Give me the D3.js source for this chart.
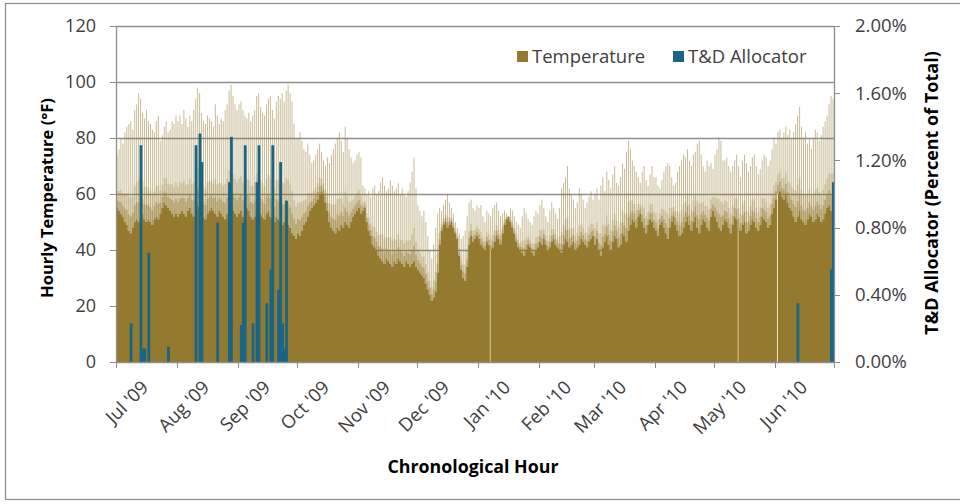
<!DOCTYPE html>
<html><head><meta charset="utf-8">
<script src="https://cdn.jsdelivr.net/npm/d3@7"></script>
<style>
body{margin:0;background:#fff;}
text{font-family:"Open Sans",sans-serif;fill:#404040;}
</style>
</head><body>
<svg id="chart" width="960" height="504"></svg>
<script>
// ---------------- DATA ----------------
const startDate = "2009-07-01";
const endDate = "2010-07-01";
const monthLabels = ["Jul '09","Aug '09","Sep '09","Oct '09","Nov '09","Dec '09","Jan '10","Feb '10","Mar '10","Apr '10","May '10","Jun '10"];
const tempTicks = [0,20,40,60,80,100,120];
const allocTicks = [0,0.004,0.008,0.012,0.016,0.020];

// daily level under which the hourly temperature bars are solid (°F), Jul 1 2009 .. Jun 30 2010
const tempBase = [
// Jul
55,54,53,52,50,49,47,46,48,50,51,50,52,53,51,50,51,50,49,51,52,51,53,55,57,56,55,54,53,52,53,
// Aug
52,53,54,53,52,54,55,53,52,54,56,55,53,52,51,53,54,55,54,53,52,54,53,52,51,53,55,56,54,53,52,
// Sep
53,54,52,53,55,54,52,51,52,54,55,53,52,51,53,54,52,51,50,52,51,50,49,50,51,49,48,46,45,44,
// Oct
46,45,47,49,50,52,54,55,56,57,58,60,61,60,57,54,50,48,47,46,48,47,49,48,50,49,48,50,52,53,54,
// Nov
55,53,54,55,50,47,45,42,41,40,38,37,36,35,37,36,35,34,36,35,37,36,35,34,36,35,34,35,36,34,
// Dec
33,32,31,30,28,26,24,22,23,25,32,42,47,49,50,48,49,50,48,46,44,38,33,30,29,34,42,45,43,44,45,
// Jan
44,42,41,40,43,42,40,41,43,45,44,42,46,49,51,52,50,48,46,43,41,40,39,38,40,42,41,39,38,40,41,
// Feb
43,42,44,42,40,41,43,44,42,41,40,39,42,44,43,41,42,43,40,41,42,44,43,42,41,43,44,45,
// Mar
42,44,40,38,41,43,45,42,40,43,45,44,41,42,46,45,43,47,49,51,50,48,52,53,50,48,46,49,51,50,48,
// Apr
47,45,49,50,48,46,44,48,50,52,49,47,45,46,48,50,52,49,47,50,52,48,46,49,51,50,48,47,52,54,
// May
52,50,48,47,49,51,50,48,46,49,52,51,48,47,49,50,46,47,49,51,50,48,47,49,52,51,50,48,49,53,55,
// Jun
58,60,61,59,58,60,57,55,54,52,50,52,54,51,50,49,51,53,52,50,51,53,52,50,51,53,55,56,54,55
];
// daily peak hourly temperature (°F)
const tempPeak = [
// Jul
74,76,80,78,82,84,85,86,83,90,92,96,94,89,87,90,86,85,83,82,86,88,79,81,84,86,82,83,86,85,88,
// Aug
86,88,85,90,87,84,88,86,90,94,98,96,89,86,85,88,87,86,84,92,88,85,87,86,90,92,97,99,95,92,90,
// Sep
92,93,90,88,87,89,86,88,90,95,96,91,89,88,92,94,95,90,87,93,95,94,96,93,97,99,96,93,85,80,
// Oct
80,82,79,76,75,78,74,71,72,74,76,78,75,72,70,73,71,74,76,78,80,82,79,75,84,80,76,73,71,72,74,
// Nov
75,73,63,62,60,61,59,62,63,60,61,64,66,63,61,62,65,63,61,62,64,60,62,60,59,61,64,68,73,62,
// Dec
56,54,52,54,50,45,40,37,42,48,53,55,54,56,58,60,57,55,53,50,48,46,44,45,47,52,57,58,55,54,56,
// Jan
55,56,52,50,54,53,52,55,56,57,54,52,53,54,53,52,55,54,52,50,49,48,52,55,53,51,50,49,52,54,53,
// Feb
56,58,55,52,50,54,57,55,53,51,55,62,64,66,70,62,60,58,55,57,62,60,58,55,57,59,61,58,
// Mar
60,62,58,63,66,61,68,65,62,67,70,64,63,66,71,69,75,79,76,72,70,68,66,64,68,70,65,63,67,70,66,
// Apr
66,63,62,65,68,70,71,70,66,63,64,68,70,72,74,73,76,72,70,74,75,78,79,74,70,68,72,70,71,69,
// May
74,76,80,79,72,72,73,70,68,70,72,74,70,66,72,74,71,68,70,73,74,70,67,69,72,74,73,70,72,76,80,
// Jun
78,82,83,80,82,84,81,83,80,82,85,88,91,84,80,82,78,80,76,80,83,82,79,81,84,86,88,92,95,94
];
// hours with missing / low readings (light lines)
const gapDays = ["2010-01-07","2010-05-13","2010-06-02"];

// T&D allocator: hour and share of total
const allocTimes = ["2009-07-08T15:00","2009-07-13T15:00","2009-07-14T15:00","2009-07-15T15:00","2009-07-17T15:00","2009-07-27T15:00",
  "2009-08-10T15:00","2009-08-12T15:00","2009-08-13T15:00","2009-08-21T15:00","2009-08-27T15:00","2009-08-28T15:00",
  "2009-09-02T15:00","2009-09-03T15:00","2009-09-04T15:00","2009-09-08T15:00","2009-09-10T15:00","2009-09-11T15:00",
  "2009-09-15T15:00","2009-09-17T15:00","2009-09-18T15:00","2009-09-21T15:00","2009-09-22T15:00","2009-09-23T15:00",
  "2009-09-24T15:00","2009-09-25T15:00","2010-06-12T15:00","2010-06-29T15:00","2010-06-30T15:00"];
const allocValues = [0.0023,0.0129,0.0008,0.0008,0.0065,0.0009,
  0.0129,0.0136,0.0119,0.0083,0.0107,0.0134,
  0.0022,0.0083,0.0129,0.0023,0.0107,0.0129,
  0.0035,0.0055,0.0129,0.0043,0.0119,0.0023,
  0.0008,0.0096,0.0035,0.0055,0.0107];

// ---------------- CHART ----------------
const svg = d3.select("#chart");
const m = {left:116, right:834, top:26, bottom:362};
const tempColor = "#947A2E", allocColor = "#1A6585", gridColor = "#8E8E8E";

const parseDay = d3.utcParse("%Y-%m-%d");
const parseHour = d3.utcParse("%Y-%m-%dT%H:%M");
const t0 = parseDay(startDate), t1 = parseDay(endDate);
const x = d3.scaleUtc().domain([t0, t1]).range([m.left, m.right]);
const yT = d3.scaleLinear().domain([0,120]).range([m.bottom, m.top]);
const yA = d3.scaleLinear().domain([0,0.02]).range([m.bottom, m.top]);

// outer frame
svg.append("rect").attr("x",5.5).attr("y",3.5).attr("width",980).attr("height",496)
  .attr("fill","#fff").attr("stroke","#8a8a8a").attr("stroke-width",1.2);

// gridlines
svg.append("g").selectAll("line").data(tempTicks.filter(d=>d>0)).join("line")
  .attr("x1",m.left).attr("x2",m.right)
  .attr("y1",d=>Math.round(yT(d))+0.5).attr("y2",d=>Math.round(yT(d))+0.5)
  .attr("stroke",gridColor).attr("stroke-width",1.3);

// temperature
const days = tempBase.map((b,i)=>({d:d3.utcDay.offset(t0,i), base:b, peak:tempPeak[i]}));
const stepDays = days.concat([{d:t1, base:days[days.length-1].base, peak:days[days.length-1].peak}]);
const gT = svg.append("g");
const lvl = (d,f)=>yT(d.base+(d.peak-d.base)*f);
// fading bands above the solid body (hourly bars thin out toward the daily peak)
[[0,0.15,0.5],[0.15,0.32,0.22]].forEach(([a,b,op])=>{
  gT.append("path").datum(stepDays)
    .attr("d", d3.area().curve(d3.curveStepAfter).x(d=>x(d.d)).y0(d=>lvl(d,a)).y1(d=>lvl(d,b)))
    .attr("fill",tempColor).attr("opacity",op);
});
// thin daily peak spikes
gT.selectAll("line.spike").data(days).join("line").attr("class","spike")
  .attr("x1",d=>x(d.d)+1).attr("x2",d=>x(d.d)+1)
  .attr("y1",d=>yT(d.peak)).attr("y2",d=>yT(d.base))
  .attr("stroke",tempColor).attr("stroke-width",1).attr("opacity",0.5);
// solid body
gT.append("path").datum(stepDays)
  .attr("d", d3.area().curve(d3.curveStepAfter).x(d=>x(d.d)).y0(yT(0)).y1(d=>yT(d.base)))
  .attr("fill",tempColor);
gT.selectAll("line.gap").data(gapDays).join("line").attr("class","gap")
  .attr("x1",d=>x(parseDay(d))+0.5).attr("x2",d=>x(parseDay(d))+0.5)
  .attr("y1",(d)=>{const i=d3.utcDay.count(t0,parseDay(d)); return yT(tempBase[i]);})
  .attr("y2",yT(0)).attr("stroke",(d,i)=>i===2?"#F2E9C8":"#D9C890").attr("stroke-width",1);

// allocator
svg.append("g").selectAll("rect").data(allocTimes).join("rect")
  .attr("x",(d)=>x(parseHour(d))-1.3).attr("width",2.8)
  .attr("y",(d,i)=>yA(allocValues[i])).attr("height",(d,i)=>yA(0)-yA(allocValues[i]))
  .attr("fill",allocColor);

// axes lines
const axisC = "#8E8E8E";
svg.append("line").attr("x1",m.left+0.5).attr("x2",m.left+0.5).attr("y1",m.top).attr("y2",m.bottom).attr("stroke",axisC).attr("stroke-width",1.3);
svg.append("line").attr("x1",m.right+0.5).attr("x2",m.right+0.5).attr("y1",m.top).attr("y2",m.bottom).attr("stroke",axisC).attr("stroke-width",1.3);
svg.append("line").attr("x1",m.left).attr("x2",m.right).attr("y1",m.bottom+0.5).attr("y2",m.bottom+0.5).attr("stroke",axisC).attr("stroke-width",1.3);

// left axis
const gL = svg.append("g");
gL.selectAll("line").data(tempTicks).join("line")
  .attr("x1",m.left-6).attr("x2",m.left).attr("y1",d=>Math.round(yT(d))+0.5).attr("y2",d=>Math.round(yT(d))+0.5).attr("stroke",axisC);
gL.selectAll("text").data(tempTicks).join("text")
  .attr("x",96).attr("y",d=>yT(d)).attr("dy","0.35em").attr("text-anchor","end")
  .style("font-size","18px").text(d=>d);

// right axis
const gR = svg.append("g");
gR.selectAll("line").data(allocTicks).join("line")
  .attr("x1",m.right).attr("x2",m.right+6).attr("y1",d=>Math.round(yA(d))+0.5).attr("y2",d=>Math.round(yA(d))+0.5).attr("stroke",axisC);
gR.selectAll("text").data(allocTicks).join("text")
  .attr("x",855).attr("y",d=>yA(d)).attr("dy","0.35em").attr("text-anchor","start")
  .style("font-size","18.5px").text(d=>d3.format(".2%")(d));

// bottom axis
const months = d3.utcMonth.range(t0, t1);
const gB = svg.append("g");
gB.selectAll("line").data(months.concat([t1])).join("line")
  .attr("x1",d=>Math.round(x(d))+0.5).attr("x2",d=>Math.round(x(d))+0.5).attr("y1",m.bottom).attr("y2",m.bottom+6).attr("stroke",axisC);
gB.selectAll("text").data(months).join("text")
  .attr("transform",d=>`translate(${x(d)+29},${m.bottom+22}) rotate(-45)`)
  .attr("text-anchor","end").attr("dy","0.35em")
  .style("font-size","18.5px").text((d,i)=>monthLabels[i]);

// axis titles
svg.append("text").attr("transform",`translate(47,198) rotate(-90)`)
  .attr("text-anchor","middle").attr("dy","0.35em").style("font-size","16.5px").style("font-weight","bold").style("fill","#000")
  .text("Hourly Temperature (°F)");
svg.append("text").attr("transform",`translate(932,193) rotate(-90)`)
  .attr("text-anchor","middle").attr("dy","0.35em").style("font-size","18px").style("font-weight","bold").style("fill","#000")
  .text("T&D Allocator (Percent of Total)");
svg.append("text").attr("x",473).attr("y",467).attr("dy","0.35em").attr("text-anchor","middle")
  .style("font-size","17.8px").style("font-weight","bold").style("fill","#000").text("Chronological Hour");

// legend
const leg = [{name:"Temperature",c:tempColor,x:517},{name:"T&D Allocator",c:allocColor,x:673}];
const gLeg = svg.append("g");
gLeg.selectAll("rect").data(leg).join("rect").attr("x",d=>d.x).attr("y",51).attr("width",11).attr("height",11).attr("fill",d=>d.c);
gLeg.selectAll("text").data(leg).join("text").attr("x",d=>d.x+15).attr("y",57).attr("dy","0.35em")
  .style("font-size","18.5px").text(d=>d.name);
</script>
</body></html>
